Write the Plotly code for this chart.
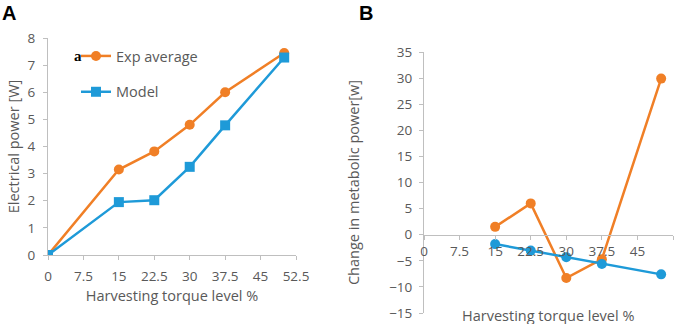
import plotly.graph_objects as go

# Panel A data
x_a = [0, 15, 22.5, 30, 37.5, 50]
exp_avg = [0, 3.15, 3.82, 4.8, 6.0, 7.45]
model = [0, 1.95, 2.02, 3.25, 4.78, 7.28]

# Panel B data
x_b = [15, 22.5, 30, 37.5, 50]
exp_b = [1.5, 6.0, -8.3, -4.7, 29.9]
model_b = [-1.8, -3.05, -4.3, -5.6, -7.6]

x_ticks = [0, 7.5, 15, 22.5, 30, 37.5, 45, 52.5]
x_ticklabels = ["0", "7.5", "15", "22.5", "30", "37.5", "45", "52.5"]

ORANGE = "#F07F26"
BLUE = "#1E9AD8"
AX = "#BFBFBF"
TXT = "#595959"
FONT = "Open Sans"
TICK_SIZE = 13.5
TITLE_SIZE = 14.5

fig = go.Figure()
fig.add_trace(go.Scatter(x=x_a, y=exp_avg, mode="lines+markers", name="Exp average",
                         line=dict(color=ORANGE, width=2.5),
                         marker=dict(symbol="circle", size=10, color=ORANGE),
                         legendgroup="a", xaxis="x", yaxis="y"))
fig.add_trace(go.Scatter(x=x_a, y=model, mode="lines+markers", name="Model",
                         line=dict(color=BLUE, width=2.5),
                         marker=dict(symbol="square", size=10, color=BLUE),
                         legendgroup="b", xaxis="x", yaxis="y"))
fig.add_trace(go.Scatter(x=x_b, y=exp_b, mode="lines+markers", showlegend=False,
                         line=dict(color=ORANGE, width=2.5),
                         marker=dict(symbol="circle", size=10, color=ORANGE),
                         xaxis="x2", yaxis="y2"))
fig.add_trace(go.Scatter(x=x_b, y=model_b, mode="lines+markers", showlegend=False,
                         line=dict(color=BLUE, width=2.5),
                         marker=dict(symbol="circle", size=10, color=BLUE),
                         xaxis="x2", yaxis="y2"))

axis_common = dict(showgrid=False, zeroline=False, showline=True, linecolor=AX, linewidth=1,
                   ticks="outside", tickcolor=AX, ticklen=4, automargin=False,
                   tickfont=dict(family=FONT, size=TICK_SIZE, color=TXT))

fig.update_layout(
    width=685, height=324,
    margin=dict(l=0, r=0, t=0, b=0),
    paper_bgcolor="white", plot_bgcolor="white",
    font=dict(family=FONT, color=TXT),
    xaxis=dict(domain=[48 / 685, 296 / 685], range=[0, 52.5], tickvals=x_ticks, ticktext=x_ticklabels,
               anchor="y", ticklabelstandoff=5,
               title=dict(text="Harvesting torque level %", font=dict(family=FONT, size=TITLE_SIZE, color=TXT), standoff=6),
               **axis_common),
    yaxis=dict(domain=[1 - 255 / 324, 1 - 38 / 324], range=[0, 8], dtick=1, anchor="x",
               ticklabelstandoff=5,
               title=dict(text="Electrical power [W]", font=dict(family=FONT, size=TITLE_SIZE, color=TXT), standoff=4),
               **axis_common),
    xaxis2=dict(domain=[424 / 685, 673 / 685], range=[0, 52.5], tickvals=x_ticks, ticktext=x_ticklabels,
                anchor="free", position=0.2758, **axis_common),
    yaxis2=dict(domain=[1 - 313 / 324, 1 - 52 / 324], range=[-15, 35], dtick=5, anchor="x2",
                ticklabelstandoff=4,
                title=dict(text="Change in metabolic power[w]", font=dict(family=FONT, size=TITLE_SIZE, color=TXT), standoff=26),
                **axis_common),
    showlegend=True,
    legend=dict(x=76 / 685, y=1 - 40 / 324, xanchor="left", yanchor="top", traceorder="grouped",
                tracegroupgap=14, bgcolor="rgba(0,0,0,0)",
                font=dict(family=FONT, size=TITLE_SIZE, color=TXT)),
    annotations=[
        dict(text="<b>A</b>", x=0.0, y=1.0, xref="paper", yref="paper", xanchor="left", yanchor="top",
             showarrow=False, font=dict(family="Liberation Sans", size=20, color="black")),
        dict(text="<b>B</b>", x=357 / 685, y=1.0, xref="paper", yref="paper", xanchor="left", yanchor="top",
             showarrow=False, font=dict(family="Liberation Sans", size=20, color="black")),
        dict(text="<b>a</b>", x=72 / 685, y=1 - 56 / 324, xref="paper", yref="paper", xanchor="left",
             yanchor="middle", showarrow=False, font=dict(family="Liberation Serif", size=15, color="black")),
        dict(text="Harvesting torque level %", x=548 / 685, y=1 - 315 / 324, xref="paper", yref="paper",
             xanchor="center", yanchor="middle", showarrow=False,
             font=dict(family=FONT, size=TITLE_SIZE, color=TXT)),
    ],
)

fig.write_html("out.html", config={"displayModeBar": False},
               post_script="document.body.style.margin='0';document.body.style.overflow='hidden';")
